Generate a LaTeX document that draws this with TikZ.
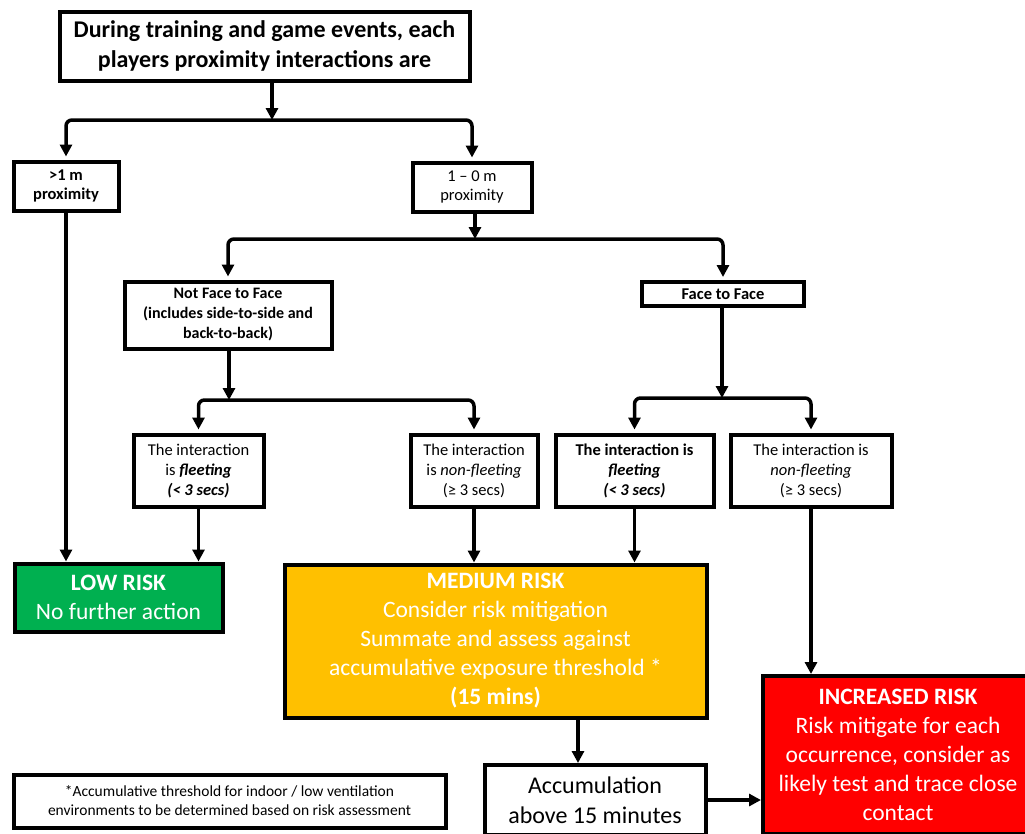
\documentclass[tikz,border=0pt]{standalone}
\usepackage{fontspec}
\setmainfont{Carlito}
\usepackage{tikz}
\usetikzlibrary{arrows.meta}
\definecolor{lowgreen}{HTML}{00B050}
\definecolor{medorange}{HTML}{FFC000}
\definecolor{incred}{HTML}{FF0000}
\tikzstyle{box}=[rectangle, draw=black, line width=4pt, fill=white, align=center, inner sep=0pt]
\tikzstyle{small}=[box, font=\fontsize{16.5}{20}\selectfont]
\tikzstyle{big}=[box, font=\fontsize{23.5}{29}\selectfont, text=white]
\tikzstyle{line}=[line width=3.5pt, -{Triangle[length=12pt,width=12pt]}]
\tikzstyle{fork}=[line width=3.5pt, {Triangle[length=12pt,width=12pt]}-{Triangle[length=12pt,width=12pt]}, rounded corners=6pt, shorten <=3pt, shorten >=3pt]

\begin{document}
\begin{tikzpicture}[x=1pt, y=-1pt]
\useasboundingbox (0,0) rectangle (1025,833);
\node [box, minimum width=410pt, minimum height=69pt, font=\fontsize{24}{30}\selectfont\bfseries] (top) at (264.5,46) {During training and game events, each\\players proximity interactions are};
\node [small, minimum width=105pt, minimum height=49pt, font=\fontsize{16.5}{19}\selectfont\bfseries] (gt1) at (66,186) {>1 m\\proximity};
\node [small, minimum width=119pt, minimum height=49pt, font=\fontsize{16.5}{19}\selectfont] (near) at (472,187) {1 – 0 m\\proximity};
\node [small, minimum width=207pt, minimum height=67pt, font=\fontsize{16}{20}\selectfont\bfseries] (notff) at (228,315) {Not Face to Face\\(includes side-to-side and\\back-to-back)};
\node [small, minimum width=162pt, minimum height=24pt, font=\fontsize{16.5}{20}\selectfont\bfseries] (ff) at (723,294) {Face to Face};
\node [small, minimum width=130pt, minimum height=72pt] (fl1) at (198.5,470.5) {The interaction\\is \textbf{\textit{fleeting}}\\\textbf{\textit{(< 3 secs)}}};
\node [small, minimum width=127pt, minimum height=72pt] (nf1) at (474,470.5) {The interaction\\is \textit{non-fleeting}\\(≥ 3 secs)};
\node [small, minimum width=158pt, minimum height=72pt, font=\fontsize{16.5}{20}\selectfont\bfseries] (fl2) at (634.5,470.5) {The interaction is\\\textit{fleeting}\\\textit{(< 3 secs)}};
\node [small, minimum width=161pt, minimum height=72pt] (nf2) at (811,470.5) {The interaction is\\\textit{non-fleeting}\\(≥ 3 secs)};
\node [big, fill=lowgreen, minimum width=208pt, minimum height=68pt] (low) at (118.5,597.5) {\textbf{LOW RISK}\\No further action};
\node [big, fill=medorange, minimum width=422pt, minimum height=153pt] (med) at (495.5,641) {\textbf{MEDIUM RISK}\\Consider risk mitigation\\Summate and assess against\\accumulative exposure threshold *\\\textbf{(15 mins)}};
\node [big, text=black, fill=white, minimum width=221pt, minimum height=70pt, font=\fontsize{24}{30}\selectfont] (accum) at (595,800) {Accumulation\\above 15 minutes};
\node [big, fill=incred, minimum width=270pt, minimum height=158pt] (inc) at (898,755) {\textbf{INCREASED RISK}\\Risk mitigate for each\\occurrence, consider as\\likely test and trace close\\contact};
\node [small, minimum width=432pt, minimum height=53pt, font=\fontsize{15.5}{19}\selectfont] (foot) at (229.5,801) {*Accumulative threshold for indoor / low ventilation\\environments to be determined based on risk assessment};
\coordinate (s1) at (272,120);
\coordinate (s2) at (475,239);
\coordinate (s3) at (229,400);
\coordinate (s4) at (722,398);
\draw [line] (s1 |- top.south) -- (s1);
\draw [fork] (gt1.north) |- (s1) -| (near.north);
\draw [line] (s2 |- near.south) -- (s2);
\draw [fork] (notff.north) |- (s2) -| (ff.north);
\draw [line] (s3 |- notff.south) -- (s3);
\draw [fork] (fl1.north) |- (s3) -| (nf1.north);
\draw [line] (s4 |- ff.south) -- (s4);
\draw [fork] (fl2.north) |- (s4) -| (nf2.north);
\draw [line] (gt1.south) -- (gt1.south |- low.north);
\draw [line] (fl1.south) -- (fl1.south |- low.north);
\draw [line] (nf1.south) -- (nf1.south |- med.north);
\draw [line] (fl2.south) -- (fl2.south |- med.north);
\draw [line] (nf2.south) -- (nf2.south |- inc.north);
\draw [line] ([xshift=-17pt]accum.north |- med.south) -- ([xshift=-17pt]accum.north);
\draw [line] (accum.east) -- (accum.east -| inc.west);
\end{tikzpicture}
\end{document}
